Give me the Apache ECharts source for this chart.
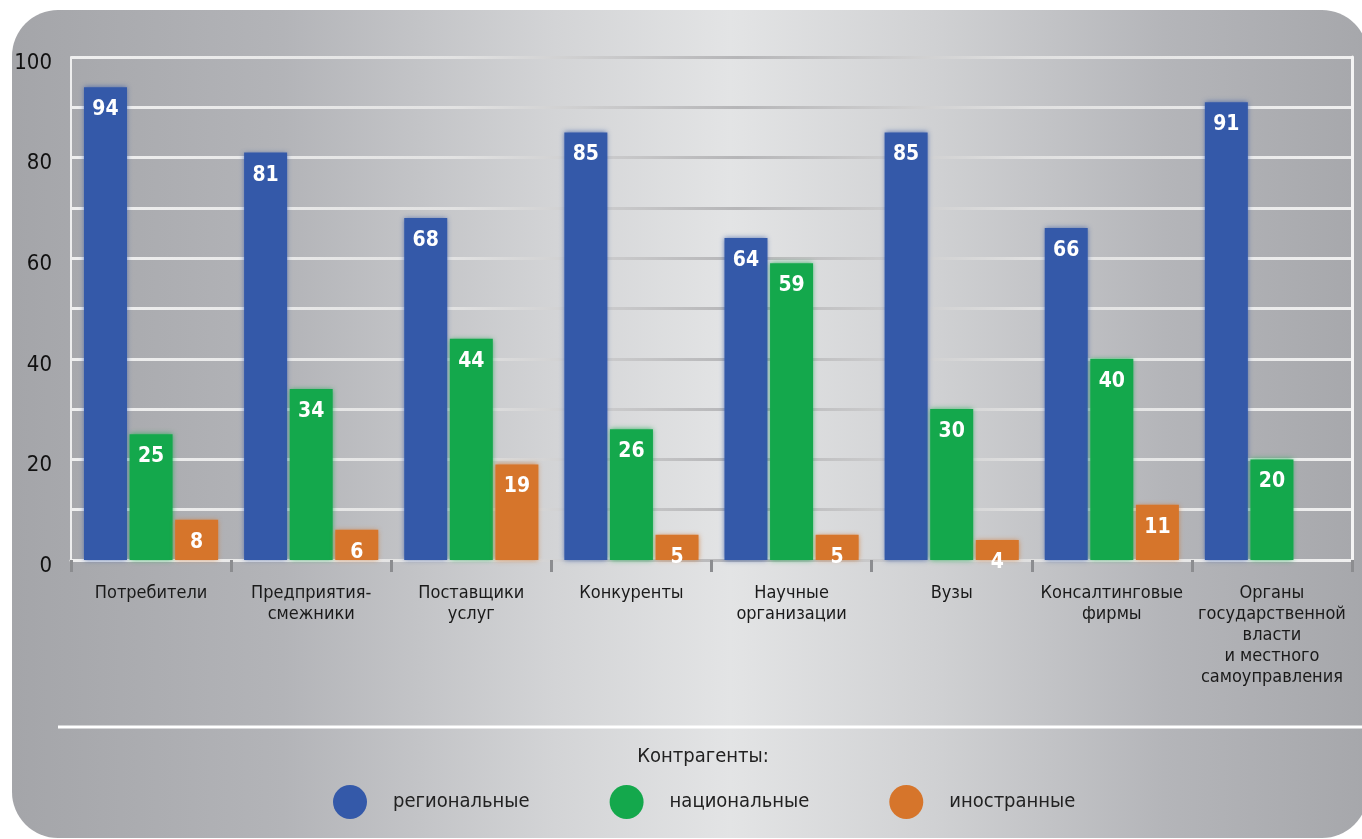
<!DOCTYPE html>
<html>
<head>
<meta charset="utf-8">
<script src="https://cdn.jsdelivr.net/npm/echarts@6/dist/echarts.min.js"></script>
<style>
  html, body { margin: 0; padding: 0; background: #ffffff; }
  #bg { position: absolute; left: 12px; top: 10px; width: 1356px; height: 828px; border-radius: 46px;
        background: linear-gradient(90deg, #a4a5a9 0%, #b3b4b8 20%, #d3d4d6 40%, #e3e4e5 53%, #d0d1d3 68%, #b4b5b9 85%, #a6a7ab 100%); }
  #chart { position: absolute; left: 0; top: 0; width: 1362px; height: 839px; }
</style>
</head>
<body>
<div id="bg"></div>
<div id="chart"></div>
<script>
const categories = [
  'Потребители',
  'Предприятия-\nсмежники',
  'Поставщики\nуслуг',
  'Конкуренты',
  'Научные\nорганизации',
  'Вузы',
  'Консалтинговые\nфирмы',
  'Органы\nгосударственной\nвласти\nи местного\nсамоуправления'
];
const seriesNames = ['региональные', 'национальные', 'иностранные'];
const regional = [94, 81, 68, 85, 64, 85, 66, 91];
const national = [25, 34, 44, 26, 59, 30, 40, 20];
const foreign = [8, 6, 19, 5, 5, 4, 11, null];
const yTicks = [0, 20, 40, 60, 80, 100];
const legendTitle = 'Контрагенты:';

const FONT = "'Liberation Sans Narrow', 'DejaVu Sans Condensed', 'Roboto Condensed', 'Noto Sans', sans-serif";
const colors = ['#3459a9', '#14a84c', '#d6752b'];
const shadows = ['rgba(52,89,169,0.8)', 'rgba(20,168,76,0.8)', 'rgba(214,117,43,0.8)'];

const gridGrad = { type: 'linear', x: 71, y: 0, x2: 1352, y2: 0, global: true,
  colorStops: [
    { offset: 0, color: '#efefef' },
    { offset: 0.3, color: '#e2e2e2' },
    { offset: 0.52, color: '#b6b6b8' },
    { offset: 0.75, color: '#e0e0e0' },
    { offset: 1, color: '#efefef' }
  ] };

const chart = echarts.init(document.getElementById('chart'), null, { renderer: 'canvas' });

function makeSeries(i, data) {
  return {
    name: seriesNames[i],
    type: 'bar',
    data: data,
    barWidth: 43,
    barGap: '6%',
    itemStyle: { color: colors[i], shadowBlur: 5, shadowColor: shadows[i] },
    label: {
      show: true,
      position: 'insideTop',
      distance: 12,
      color: '#ffffff',
      fontFamily: FONT,
      fontWeight: 'bold',
      fontSize: 21
    }
  };
}

chart.setOption({
  backgroundColor: 'transparent',
  animation: false,
  grid: { left: 71, right: 10, top: 57, bottom: 279 },
  xAxis: {
    type: 'category',
    data: categories,
    axisLine: { show: true, lineStyle: { color: gridGrad, width: 3 } },
    axisTick: { show: true, length: 12, lineStyle: { color: '#8c8d90', width: 3 } },
    axisLabel: {
      fontFamily: FONT, fontSize: 18, color: '#1a1a1a', lineHeight: 21,
      margin: 23, interval: 0, verticalAlign: 'top'
    }
  },
  yAxis: [{
    type: 'value',
    min: 0, max: 100, interval: 10,
    axisLine: { show: true, lineStyle: { color: '#eeeeee', width: 2 } },
    axisTick: { show: false },
    splitLine: { show: true, lineStyle: { color: gridGrad, width: 3 } },
    axisLabel: {
      fontFamily: FONT, fontSize: 22, color: '#111111', margin: 19,
      verticalAlign: 'top', lineHeight: 12,
      formatter: function (v) { return yTicks.indexOf(v) >= 0 ? String(v) : ''; }
    }
  }, {
    type: 'value',
    position: 'right',
    min: 0, max: 100, interval: 10,
    axisLine: { show: true, lineStyle: { color: '#f4f4f4', width: 3 } },
    axisTick: { show: false },
    axisLabel: { show: false },
    splitLine: { show: false }
  }],
  legend: {
    data: seriesNames,
    selectedMode: false,
    icon: 'circle',
    itemWidth: 34,
    itemHeight: 34,
    itemGap: 80,
    left: 328,
    top: 780,
    textStyle: { fontFamily: FONT, fontSize: 20, color: '#222222', padding: [0, 0, 0, 21] }
  },
  graphic: [
    { type: 'line', shape: { x1: 58, y1: 727, x2: 1362, y2: 727 }, style: { stroke: '#ffffff', lineWidth: 3 } },
    { type: 'text', x: 703, y: 747, style: { text: legendTitle, fontFamily: FONT, fontSize: 20, fill: '#222222', align: 'center', verticalAlign: 'top' } }
  ],
  series: [makeSeries(0, regional), makeSeries(1, national), makeSeries(2, foreign)]
});
</script>
</body>
</html>
